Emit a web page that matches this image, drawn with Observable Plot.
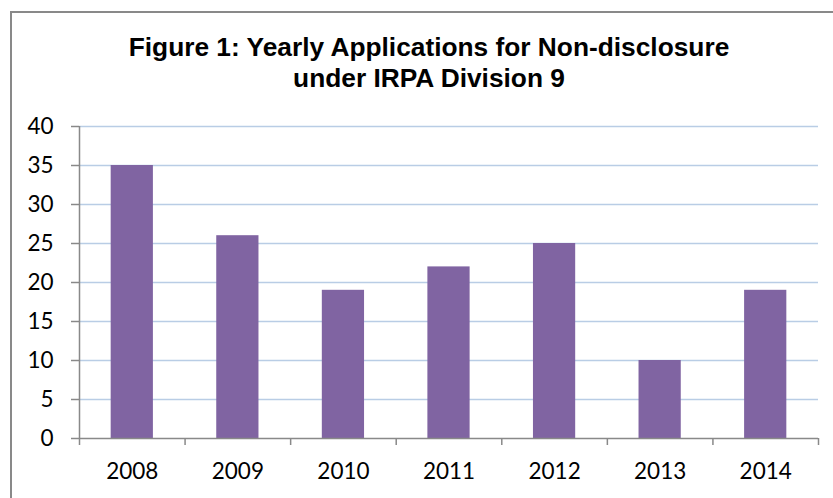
<!DOCTYPE html>
<html>
<head>
<meta charset="utf-8">
<script src="https://cdn.jsdelivr.net/npm/d3@7"></script>
<script src="https://cdn.jsdelivr.net/npm/@observablehq/plot@0.6"></script>
<style>
  html, body { margin: 0; padding: 0; background: #fff; }
  #wrap { position: relative; width: 833px; height: 498px; overflow: hidden; }
  #border { position: absolute; left: 10px; top: 11px; width: 900px; height: 600px;
            border-left: 2px solid #898989; border-top: 2px solid #898989; }
  #title { position: absolute; left: 0; top: 32.4px; width: 858px; text-align: center;
           font-family: "Liberation Sans", Arial, sans-serif; font-weight: bold;
           font-size: 26.3px; line-height: 31px; color: #000; }
  #chart { position: absolute; left: 0; top: 0; }
</style>
</head>
<body>
<div id="wrap">
  <div id="border"></div>
  <div id="chart"></div>
  <div id="title"></div>
</div>
<script>
const titleLines = ["Figure 1: Yearly Applications for Non-disclosure", "under IRPA Division 9"];
const years = [2008, 2009, 2010, 2011, 2012, 2013, 2014];
const applications = [35, 26, 19, 22, 25, 10, 19];
const yTicks = [0, 5, 10, 15, 20, 25, 30, 35, 40];

document.getElementById("title").innerHTML = titleLines.map(t => `<div>${t}</div>`).join("");

const data = years.map((year, i) => ({year, value: applications[i]}));
const boundaries = [...years.map(y => y - 0.5), years[years.length - 1] + 0.5];

const plot = Plot.plot({
  width: 833,
  height: 498,
  marginLeft: 79,
  marginRight: 15,
  marginTop: 126,
  marginBottom: 60,
  style: {background: "transparent", fontFamily: "Lato, sans-serif", fontSize: "22.5px", color: "#000", overflow: "visible"},
  x: {domain: [boundaries[0], boundaries[boundaries.length - 1]], axis: null},
  y: {domain: [0, 40], axis: null},
  marks: [
    Plot.ruleY(yTicks.filter(t => t > 0), {stroke: "#b9cde5", strokeWidth: 1.3}),
    Plot.rectY(data, {x1: d => d.year - 0.2, x2: d => d.year + 0.2, y: "value", fill: "#8064a2"}),
    Plot.axisY({ticks: yTicks, label: null, tickSize: 8, tickPadding: 18, stroke: "#898989", strokeWidth: 1.5, fill: "#000", fontSize: 22.5, tickFormat: d => String(d)}),
    Plot.ruleX([boundaries[0]], {stroke: "#898989", strokeWidth: 1.5}),
    Plot.axisX({ticks: boundaries, label: null, tickSize: 7, tickFormat: () => "", stroke: "#898989", strokeWidth: 1.5}),
    Plot.ruleY([0], {stroke: "#898989", strokeWidth: 1.5}),
    Plot.axisX({ticks: years, label: null, tickSize: 0, tickPadding: 25, fill: "#000", fontSize: 22.5, tickFormat: d => String(d)})
  ]
});
document.getElementById("chart").appendChild(plot);
</script>
</body>
</html>
